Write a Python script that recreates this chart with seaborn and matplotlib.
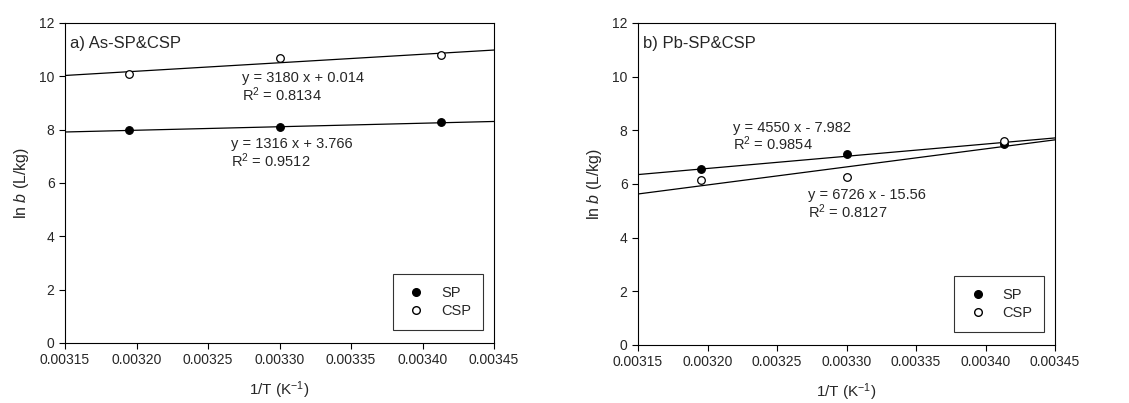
import numpy as np
import pandas as pd
import matplotlib
matplotlib.use("Agg")
import matplotlib.pyplot as plt
import seaborn as sns
from matplotlib.lines import Line2D

# data
inv_T = [0.003195, 0.003300, 0.003413]

as_sp = [8.0, 8.1, 8.3]
as_csp = [10.1, 10.7, 10.8]
pb_sp = [6.55, 7.1, 7.5]
pb_csp = [6.15, 6.25, 7.6]

# fitted lines (from the equations printed on the chart)
as_slope = [1316, 3180]
as_icept = [3.766, 0.014]
pb_slope = [4550, 6726]
pb_icept = [-7.982, -15.56]

as_labels = ["y = 1316 x + 3.766\nR$^2$ = 0.9512", "y = 3180 x + 0.014\nR$^2$ = 0.8134"]
pb_labels = ["y = 4550 x - 7.982\nR$^2$ = 0.9854", "y = 6726 x - 15.56\nR$^2$ = 0.8127"]

series = ["SP", "CSP"]
x_ticks = [0.00315, 0.00320, 0.00325, 0.00330, 0.00335, 0.00340, 0.00345]
y_ticks = [0, 2, 4, 6, 8, 10, 12]

sns.set_theme(style="ticks")
plt.rcParams["font.family"] = ["Liberation Sans", "DejaVu Sans"]
plt.rcParams["mathtext.fontset"] = "custom"
plt.rcParams["mathtext.rm"] = "Liberation Sans"
plt.rcParams["mathtext.it"] = "Liberation Sans:italic"
plt.rcParams["axes.linewidth"] = 0.8
plt.rcParams["xtick.major.width"] = 0.8
plt.rcParams["ytick.major.width"] = 0.8

fig = plt.figure(figsize=(11.29, 4.03), dpi=100)
ax1 = fig.add_axes([0.0576, 0.149, 0.380, 0.794])
ax2 = fig.add_axes([0.5651, 0.144, 0.3694, 0.799])


def panel(ax, sp, csp, slopes, icepts, labels, label_pos, title):
    df = pd.DataFrame({"x": inv_T * 2, "y": sp + csp,
                       "s": ["SP"] * 3 + ["CSP"] * 3})
    xl = np.array([x_ticks[0], x_ticks[-1]])
    for m, b in zip(slopes, icepts):
        ax.plot(xl, m * xl + b, color="black", lw=0.9, zorder=2)
    sns.scatterplot(data=df[df.s == "SP"], x="x", y="y", ax=ax, color="black",
                    edgecolor="black", s=30, linewidth=0.9, zorder=3, legend=False)
    sns.scatterplot(data=df[df.s == "CSP"], x="x", y="y", ax=ax, color="white",
                    edgecolor="black", s=30, linewidth=0.9, zorder=3, legend=False)
    for txt, (tx, ty) in zip(labels, label_pos):
        ax.text(tx, ty, txt, fontsize=10.5, va="center", ha="left", linespacing=1.0)
    ax.text(0.012, 0.935, title, transform=ax.transAxes, fontsize=12, va="center")
    ax.set_xlim(x_ticks[0], x_ticks[-1])
    ax.set_ylim(y_ticks[0], y_ticks[-1])
    ax.set_xticks(x_ticks)
    ax.set_xticklabels([f"{t:.5f}" for t in x_ticks])
    ax.set_yticks(y_ticks)
    ax.tick_params(labelsize=10, length=4, direction="out", color="black")
    ax.set_xlabel("1/T (K$^{-1}$)", fontsize=11, labelpad=9)
    ax.set_ylabel("ln $\\mathit{b}$ (L/kg)", fontsize=11.5, labelpad=6)
    for sp_ in ax.spines.values():
        sp_.set_visible(True)
        sp_.set_color("black")
    handles = [Line2D([], [], marker="o", ls="", color="black", mfc="black", ms=5.5),
               Line2D([], [], marker="o", ls="", color="black", mfc="white", ms=5.5)]
    leg = ax.legend(handles, series, loc="lower right", bbox_to_anchor=(0.974, 0.04),
                    borderaxespad=0, fontsize=10.5, frameon=True, fancybox=False,
                    edgecolor="black", handletextpad=0.9, handlelength=1.6,
                    borderpad=0.8, labelspacing=0.3)
    leg.get_frame().set_linewidth(0.8)


panel(ax1, as_sp, as_csp, as_slope, as_icept, as_labels,
      [(0.003266, 7.1), (0.003274, 9.57)], "a) As-SP&CSP")
panel(ax2, pb_sp, pb_csp, pb_slope, pb_icept, pb_labels,
      [(0.003218, 7.75), (0.003272, 5.23)], "b) Pb-SP&CSP")

fig.savefig("out.png", dpi=100)
